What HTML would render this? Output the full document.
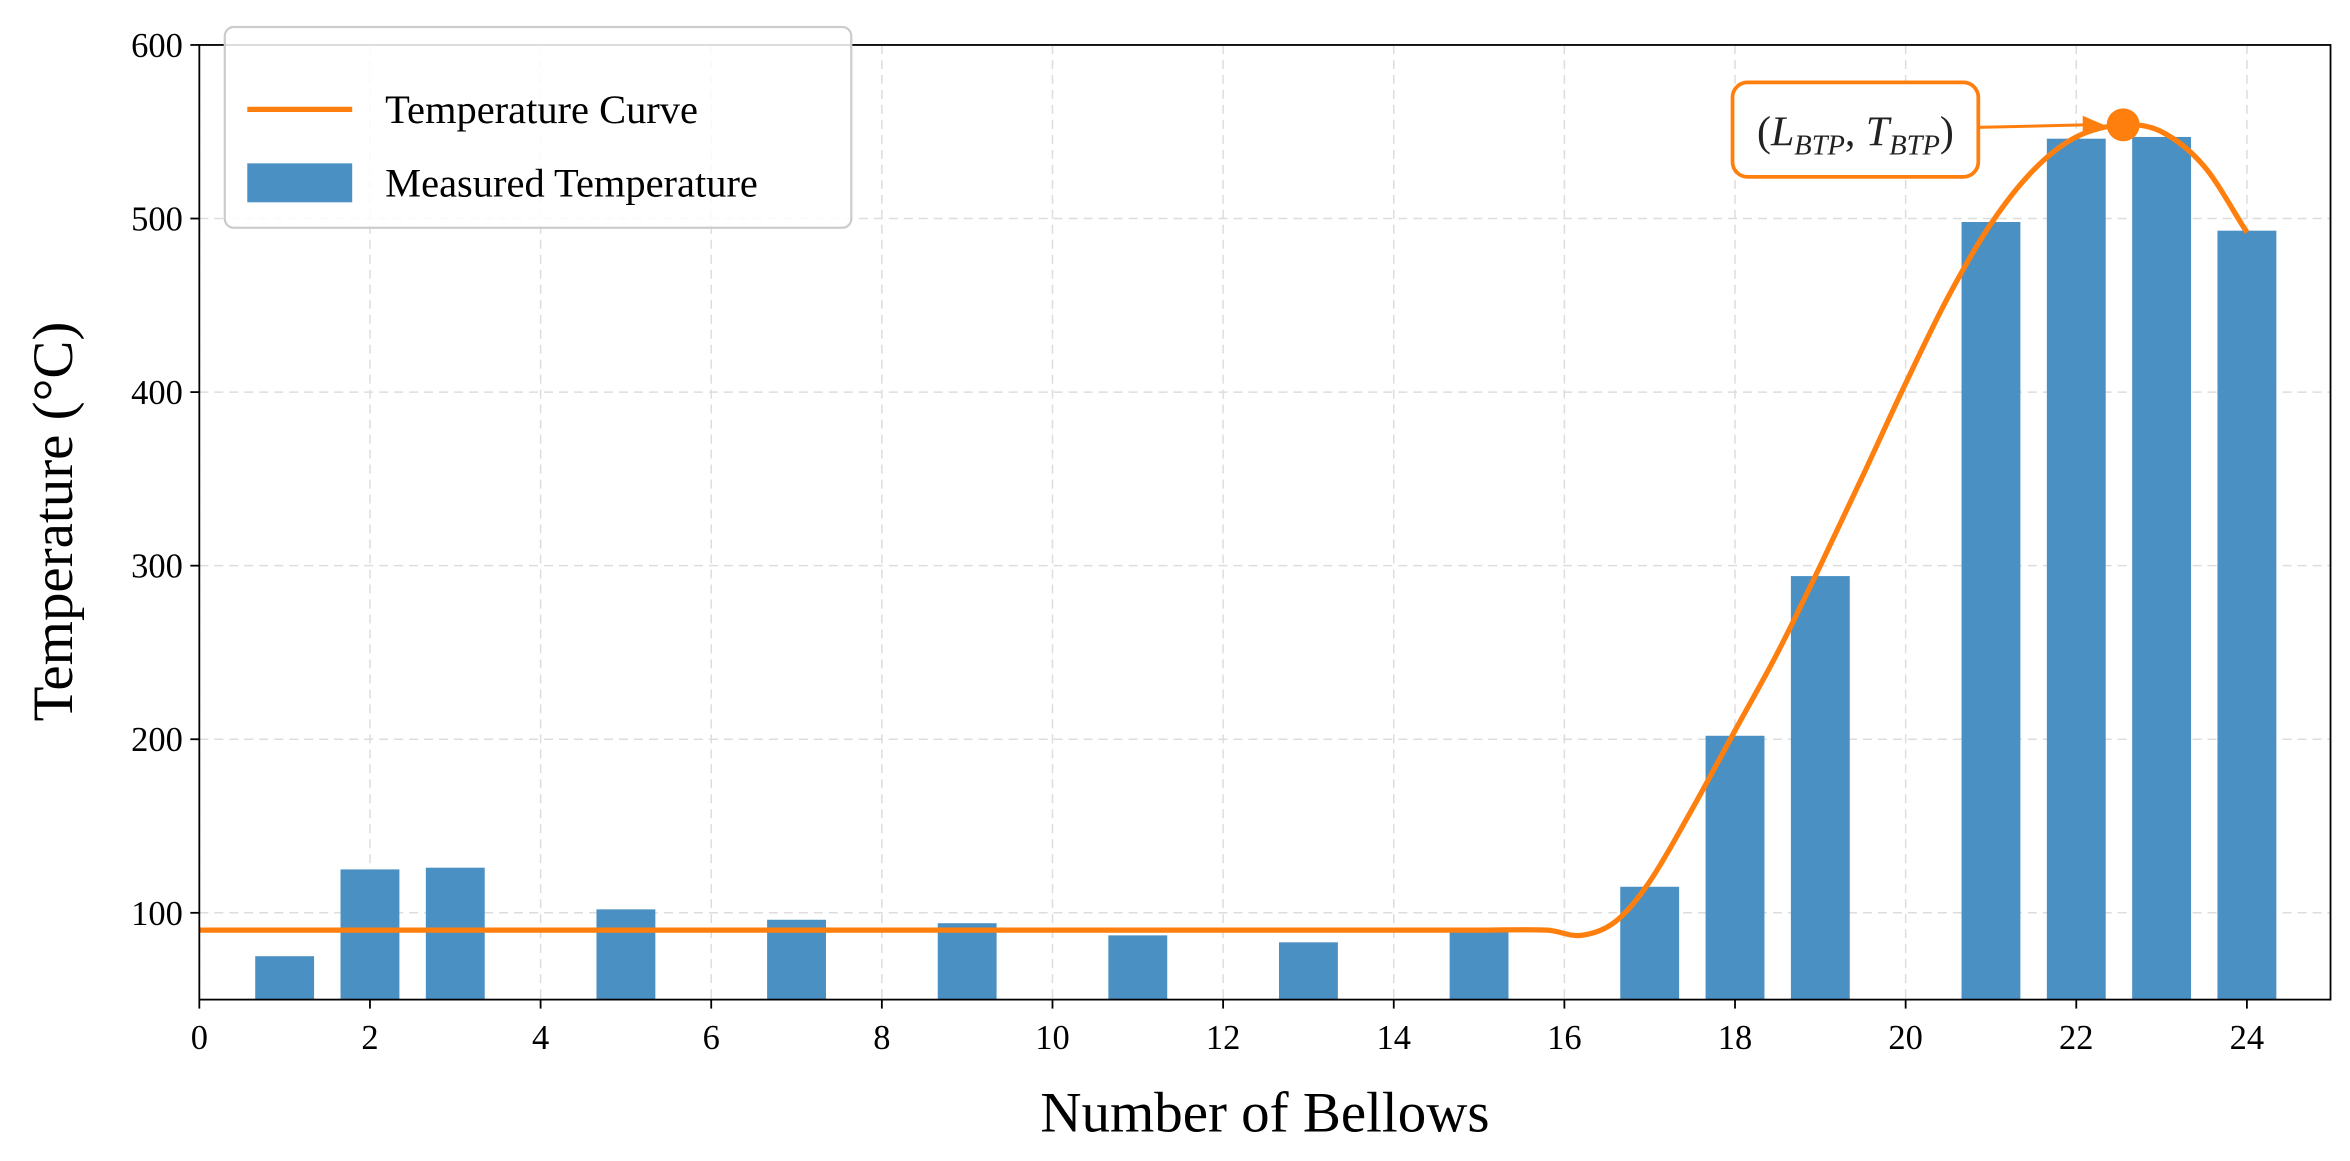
<!DOCTYPE html>
<html><head><meta charset="utf-8"><style>
body{margin:0;background:#fff;}
svg{display:block;font-family:"Liberation Serif",serif;}
</style></head><body>
<svg id="chart" width="2350" height="1161" viewBox="0 0 1568 774.7" preserveAspectRatio="none">
<g id="grid"></g>
<g id="bars"></g>
<path id="curve" fill="none" stroke="#ff7f0e" stroke-width="3.5"/>
<g id="axes"></g>
<text x="844" y="755" font-size="38" text-anchor="middle">Number of Bellows</text>
<text transform="translate(48,348) rotate(-90)" font-size="38" text-anchor="middle">Temperature (°C)</text>
<g>
<rect x="150" y="18" width="418" height="134" rx="6" fill="#fff" fill-opacity="0.85" stroke="#ccc" stroke-width="1.5"/>
<line x1="165" y1="73" x2="235" y2="73" stroke="#ff7f0e" stroke-width="3.5"/>
<text x="257" y="82" font-size="27">Temperature Curve</text>
<rect x="165" y="109" width="70" height="26" fill="#4a90c2"/>
<text x="257" y="131" font-size="27">Measured Temperature</text>
</g>
<g id="annot">
<rect x="1156" y="55" width="164" height="63" rx="10" fill="#fff" stroke="#ff7f0e" stroke-width="2.5"/>
<text x="1238" y="97" font-size="28" text-anchor="middle" fill="#222">(<tspan font-style="italic">L</tspan><tspan font-style="italic" font-size="19" dy="6">BTP</tspan><tspan dy="-6">, </tspan><tspan font-style="italic">T</tspan><tspan font-style="italic" font-size="19" dy="6">BTP</tspan><tspan dy="-6">)</tspan></text>
</g>
<line id="arrow" x1="1320" y1="85" x2="1398" y2="84" stroke="#ff7f0e" stroke-width="2"/>
<polygon id="arrowhead" fill="#ff7f0e"/>
<circle id="peak" r="11" fill="#ff7f0e"/>
</svg>
<script>
const barCategories=[1,2,3,5,7,9,11,13,15,17,18,19,21,22,23,24];
const barValues=[75,125,126,102,96,94,87,83,90,115,202,294,498,546,547,493];
const curveX=[0,5,10,15,15.8,16.2,16.6,17,17.5,18,18.5,19,19.5,20,20.5,21,21.5,22,22.55,23,23.5,24];
const curveY=[90,90,90,90,90,87,95,118,160,205,250,300,352,405,455,497,528,547,554,550,530,492];
const peakPoint=[22.55,554];
const xTicks=[0,2,4,6,8,10,12,14,16,18,20,22,24];
const yTicks=[100,200,300,400,500,600];
const NS="http://www.w3.org/2000/svg";
const L=133,R=1555,T=30,B=667,xMin=0,xMax=24.98,yMin=50,yMax=600;
const xs=v=>L+(v-xMin)/(xMax-xMin)*(R-L);
const ys=v=>B-(v-yMin)/(yMax-yMin)*(B-T);
function mk(t,a,p){const e=document.createElementNS(NS,t);for(const k in a)e.setAttribute(k,a[k]);p.appendChild(e);return e;}
const grid=document.getElementById('grid'),axes=document.getElementById('axes'),bars=document.getElementById('bars');
xTicks.forEach(v=>{const x=xs(v);
 const g=mk('line',{x1:x,x2:x,y1:T,y2:B,stroke:'#ddd','stroke-dasharray':'6,4','stroke-width':1},grid);
 
 const t=mk('line',{x1:x,x2:x,y1:B,y2:B+6,stroke:'#000','stroke-width':1.2},axes);
 
 const l=mk('text',{x:x,y:B+33,'font-size':23,'text-anchor':'middle'},axes);l.textContent=v;
 });
yTicks.forEach(v=>{const y=ys(v);
 const g=mk('line',{x1:L,x2:R,y1:y,y2:y,stroke:'#ddd','stroke-dasharray':'6,4','stroke-width':1},grid);
 
 const t=mk('line',{x1:L-6,x2:L,y1:y,y2:y,stroke:'#000','stroke-width':1.2},axes);
 
 const l=mk('text',{x:L-11,y:y+8,'font-size':23,'text-anchor':'end'},axes);l.textContent=v;
 });
const frame=mk('rect',{x:L,y:T,width:R-L,height:B-T,fill:'none',stroke:'#000','stroke-width':1.2},axes);

const bw=0.69;
barCategories.forEach((c,i)=>{const x0=xs(c-bw/2),x1=xs(c+bw/2),y=ys(barValues[i]);
 const r=mk('rect',{x:x0,y:y,width:x1-x0,height:B-y,fill:'#4a90c2'},bars);
 });
const P=curveX.map((x,i)=>[xs(x),ys(curveY[i])]);
let d='M'+P[0][0]+','+P[0][1];
for(let i=0;i<P.length-1;i++){const p0=P[Math.max(0,i-1)],p1=P[i],p2=P[i+1],p3=P[Math.min(P.length-1,i+2)];
 const s1=(p2[0]-p1[0])/Math.max(1e-6,p2[0]-p0[0]), s2=(p2[0]-p1[0])/Math.max(1e-6,p3[0]-p1[0]);
 const c1=[p1[0]+(p2[0]-p0[0])*s1/3,p1[1]+(p2[1]-p0[1])*s1/3],c2=[p2[0]-(p3[0]-p1[0])*s2/3,p2[1]-(p3[1]-p1[1])*s2/3];
 d+=` C${c1[0]},${c1[1]} ${c2[0]},${c2[1]} ${p2[0]},${p2[1]}`;}
document.getElementById('curve').setAttribute('d',d);
const px=xs(peakPoint[0]),py=ys(peakPoint[1]);
const pk=document.getElementById('peak');pk.setAttribute('cx',px);pk.setAttribute('cy',py);
const ax=px-13;
document.getElementById('arrow').setAttribute('x2',ax-10);document.getElementById('arrow').setAttribute('y2',py);
document.getElementById('arrowhead').setAttribute('points',`${ax},${py} ${ax-14},${py-6} ${ax-14},${py+6}`);
</script>
</body></html>
